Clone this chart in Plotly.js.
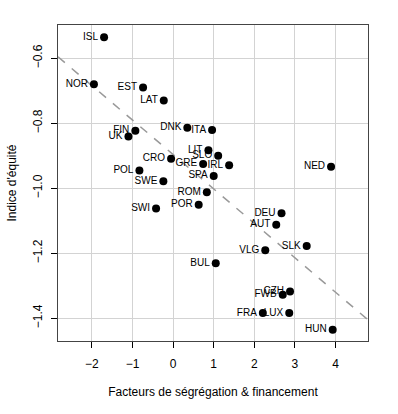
<!DOCTYPE html>
<html>
<head>
<meta charset="utf-8">
<script src="https://cdn.plot.ly/plotly-3.0.1.min.js"></script>
<style>html,body{margin:0;padding:0;background:#fff;}#chart{width:398px;height:414px;}</style>
</head>
<body>
<div id="chart"></div>
<script>
const countries = ["ISL","NOR","EST","LAT","FIN","UK","DNK","ITA","LIT","SLO","CRO","GRE","IRL","POL","SPA","SWE","NED","ROM","POR","SWI","DEU","AUT","SLK","VLG","BUL","CZH","FWB","FRA","LUX","HUN"];
const segregation = [-1.70,-1.95,-0.74,-0.23,-0.93,-1.10,0.35,0.96,0.87,1.11,-0.05,0.74,1.38,-0.83,1.00,-0.24,3.89,0.83,0.63,-0.42,2.67,2.54,3.29,2.27,1.05,2.88,2.70,2.21,2.86,3.93];
const equity = [-0.535,-0.680,-0.690,-0.730,-0.823,-0.841,-0.814,-0.821,-0.883,-0.900,-0.909,-0.925,-0.929,-0.945,-0.962,-0.978,-0.934,-1.012,-1.051,-1.062,-1.077,-1.112,-1.178,-1.191,-1.231,-1.318,-1.328,-1.384,-1.384,-1.435];
const fitIntercept = -0.896;
const fitSlope = -0.106;
const xRange = [-2.835, 4.80];
const yRange = [-1.470, -0.4975];

const FONT = "Liberation Sans, Arial, Helvetica, sans-serif";

const fitLine = {
  x: xRange,
  y: xRange.map(v => fitIntercept + fitSlope * v),
  mode: "lines",
  line: {color: "#999999", width: 1.5, dash: "dash"},
  hoverinfo: "skip",
  showlegend: false
};

const points = {
  x: segregation,
  y: equity,
  text: countries,
  mode: "markers+text",
  textposition: "middle left",
  textfont: {family: FONT, size: 10, color: "#000"},
  marker: {color: "#000", size: 8},
  showlegend: false,
  cliponaxis: false
};

const layout = {
  width: 398, height: 414,
  margin: {l: 58, r: 30, t: 25, b: 73},
  paper_bgcolor: "#fff", plot_bgcolor: "#fff",
  font: {family: FONT, size: 12, color: "#000"},
  xaxis: {
    range: xRange, tick0: 0, dtick: 1,
    showgrid: true, gridcolor: "#d3d3d3", gridwidth: 1,
    zeroline: false,
    showline: true, mirror: true, linecolor: "#444", linewidth: 1,
    ticks: "outside", ticklen: 6, tickcolor: "#000",
    ticklabelstandoff: 6,
    tickfont: {family: FONT, size: 12, color: "#000"},
    title: {text: "Facteurs de ségrégation & financement", font: {family: FONT, size: 12, color: "#000"}, standoff: 17}
  },
  yaxis: {
    range: yRange, tick0: -1.4, dtick: 0.2, tickformat: ".1f",
    showgrid: true, gridcolor: "#d3d3d3", gridwidth: 1,
    zeroline: false,
    showline: true, mirror: true, linecolor: "#444", linewidth: 1,
    ticks: "outside", ticklen: 6, tickcolor: "#000",
    tickangle: -90,
    ticklabelstandoff: 4,
    tickfont: {family: FONT, size: 12, color: "#000"},
    title: {text: "Indice d'équité", font: {family: FONT, size: 12, color: "#000"}, standoff: 12}
  },
  hovermode: false
};

Plotly.newPlot("chart", [fitLine, points], layout, {staticPlot: true, displayModeBar: false});
</script>
</body>
</html>
